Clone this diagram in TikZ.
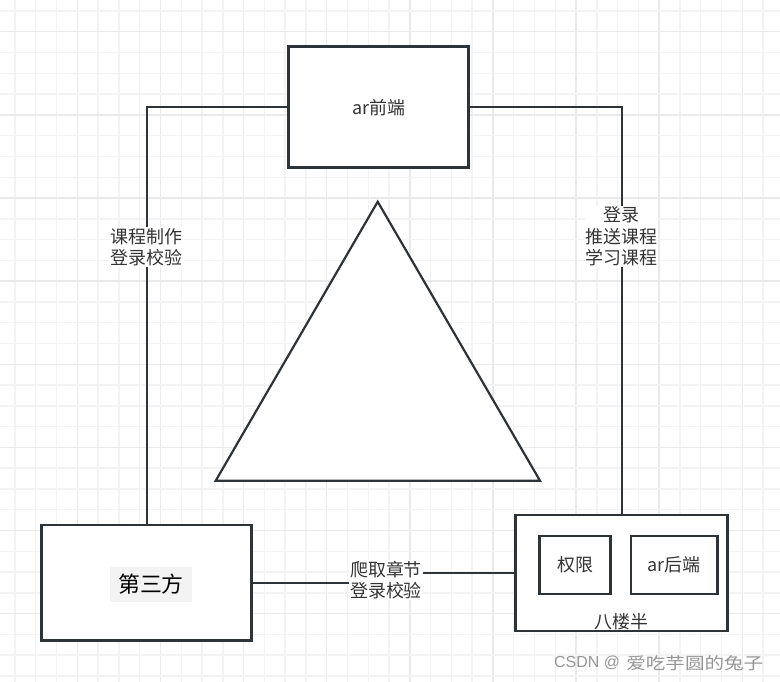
\documentclass[tikz,border=0pt]{standalone}
\usepackage{fontspec}
\newfontfamily\cjk{Noto Sans CJK SC}
\newfontfamily\wmlatin{Liberation Sans}
\definecolor{edge}{HTML}{2E3338}
\definecolor{txt}{HTML}{333333}
\definecolor{gridminor}{HTML}{F3F3F3}
\definecolor{gridmajor}{HTML}{EAEAEA}
\definecolor{wm}{HTML}{959595}
\definecolor{tagbg}{HTML}{F3F3F3}
\begin{document}
\begin{tikzpicture}[x=1bp,y=-1bp,
  box/.style={draw=edge,line width=2.5bp,fill=white,inner sep=0pt,font=\cjk\fontsize{18}{21.7}\selectfont,text=txt},
  conn/.style={draw=edge,line width=2bp},
  lbl/.style={fill=white,inner sep=1bp,align=center,font=\cjk\fontsize{18}{21.7}\selectfont,text=txt},
  plain/.style={inner sep=0pt,font=\cjk\fontsize{18}{21.7}\selectfont,text=txt},
]
\fill[white] (0,0) rectangle (780,682);
\useasboundingbox (0,0) rectangle (780,682);
% grid
\foreach \n in {0,...,37} {
  \pgfmathsetmacro{\gx}{15+20.78*\n}
  \pgfmathtruncatemacro{\r}{mod(\n,4)}
  \ifnum\r=3
    \draw[gridmajor,line width=1.4bp] (\gx,0) -- (\gx,682);
  \else
    \draw[gridminor,line width=1.4bp] (\gx,0) -- (\gx,682);
  \fi
}
\foreach \m in {0,...,32} {
  \pgfmathsetmacro{\gy}{11+20.78*\m}
  \pgfmathtruncatemacro{\r}{mod(\m,4)}
  \ifnum\r=1
    \draw[gridmajor,line width=1.4bp] (0,\gy) -- (780,\gy);
  \else
    \draw[gridminor,line width=1.4bp] (0,\gy) -- (780,\gy);
  \fi
}
% triangle
\draw[edge,line width=2.2bp,fill=white,line join=miter] (377.7,201.7) -- (540,480.7) -- (215.7,480.7) -- cycle;
% boxes
\node[box,minimum width=180.4bp,minimum height=121bp] (front) at (378.5,107.2) {ar前端};
\node[box,minimum width=210bp,minimum height=115.7bp] (sanfang) at (146.7,582.8) {};
\node[inner sep=0pt,fill=tagbg,minimum width=82bp,minimum height=35bp,font=\cjk\fontsize{22}{22}\selectfont,text=black] (sanfangtxt) at (151,584.5) {第三方};
\node[box,minimum width=211.6bp,minimum height=116bp] (balou) at (621.5,573) {};
\node[box,minimum width=71.4bp,minimum height=58.3bp] (quanxian) at (575,564.9) {权限};
\node[box,minimum width=86.7bp,minimum height=58.3bp] (houduan) at (674.3,564.9) {ar后端};
\node[plain] (baloutxt) at (621.5,621.5) {八楼半};
% connectors
\draw[conn] (front.west) -| (sanfang.north) node[lbl,pos=0.668] (l1) {课程制作\\登录校验};
\draw[conn] (front.east) -| (balou.north) node[lbl,pos=0.659] (l2) {登录\\推送课程\\学习课程};
\coordinate (mid) at (386,580);
\draw[conn] (sanfang.east) -| (mid) |- (balou.west);
\node[lbl] (l3) at (mid) {爬取章节\\登录校验};
% watermark
\node[anchor=west,inner sep=0pt,text=wm,font=\wmlatin\fontsize{16}{16}\selectfont] (wm1) at (554,663) {CSDN @};
\node[anchor=east,inner sep=0pt,text=wm] (wm2) at (763.5,663) {\resizebox{137bp}{\height}{\cjk\fontsize{16.5}{16.5}\selectfont 爱吃芋圆的兔子}};
\end{tikzpicture}
\end{document}
